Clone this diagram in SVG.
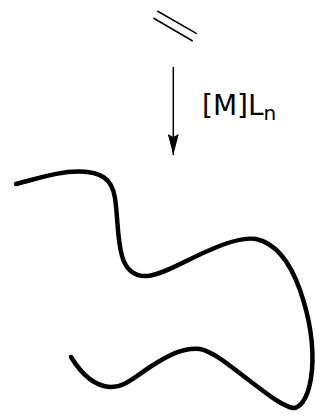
<svg xmlns="http://www.w3.org/2000/svg" width="320" height="418" viewBox="0 0 320 418">
<style>
.bond{stroke:#000;stroke-width:1.5;fill:none}
.chain{stroke:#000;stroke-width:4.5;fill:none;stroke-linecap:round;stroke-linejoin:round}
.t{font-family:"DejaVu Sans",sans-serif;fill:#000}
</style>
<defs><marker id="ah" markerUnits="userSpaceOnUse" markerWidth="22" markerHeight="12" refX="21" refY="6" orient="auto"><path d="M0,0.500 L3,6 L0,11.500 L21,6 Z" fill="#000"/></marker></defs>
<rect width="320" height="418" fill="#fff"/>
<g id="ethene"><line class="bond" x1="157.3" y1="11" x2="196.7" y2="33.7"/><line class="bond" x1="153.3" y1="18" x2="192.7" y2="41"/></g>
<g id="connectors"><line x1="173.3" y1="67" x2="173.3" y2="155" stroke="#000" stroke-width="1.5" marker-end="url(#ah)"/></g>
<g id="catalyst"><text class="t" x="202" y="115" font-size="28">[M]L<tspan font-size="20" dy="5">n</tspan></text></g>
<g id="polymer"><path class="chain" d="M16,184 C40,178 60,171 80,171.500 C100,172 112,178 115,198 C118,218 117,238 122,256 C126,270 134,277 148,276 C165,274 190,258 210,250 C228,242 243,237 256,239 C275,243 290,262 300,290 C309,316 314,345 312,370 C310,392 303,408 293,408 C280,405 265,392 250,381 C235,370 215,352 200,349 C185,347 170,354 150,367 C135,377 125,387 110,387 C95,386 82,375 71,357"/></g>
</svg>
